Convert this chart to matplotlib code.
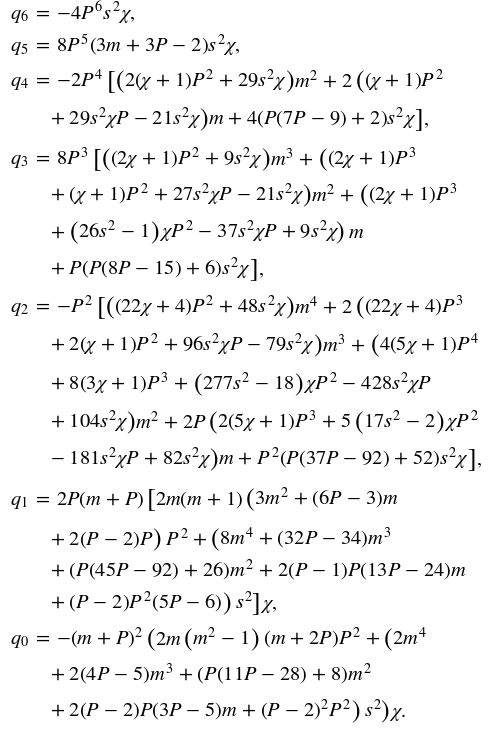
import matplotlib
matplotlib.use("Agg")
import matplotlib.pyplot as plt
from matplotlib.mathtext import MathTextParser
from matplotlib.font_manager import FontProperties

plt.rcParams['mathtext.fontset'] = 'stix'
plt.rcParams['font.family'] = ['STIXGeneral', 'DejaVu Serif']

# Equation lines: (starts a new definition, text). "@(" etc. mark a \big delimiter.
eq_lines = [
    (True,  r"q_6 = -4P^6s^2\chi,"),
    (True,  r"q_5 = 8P^5(3m + 3P - 2)s^2\chi,"),
    (True,  r"q_4 = -2P^4\,@[@(2(\chi + 1)P^2 + 29s^2\chi@)m^2 + 2\,@((\chi + 1)P^2"),
    (False, r"+ 29s^2\chi P - 21s^2\chi@)m + 4(P(7P - 9) + 2)s^2\chi@],"),
    (True,  r"q_3 = 8P^3\,@[@((2\chi + 1)P^2 + 9s^2\chi@)m^3 + @((2\chi + 1)P^3"),
    (False, r"+ (\chi + 1)P^2 + 27s^2\chi P - 21s^2\chi@)m^2 + @((2\chi + 1)P^3"),
    (False, r"+ @(26s^2 - 1@)\chi P^2 - 37s^2\chi P + 9s^2\chi@)\,m"),
    (False, r"+ P(P(8P - 15) + 6)s^2\chi@],"),
    (True,  r"q_2 = -P^2\,@[@((22\chi + 4)P^2 + 48s^2\chi@)m^4 + 2\,@((22\chi + 4)P^3"),
    (False, r"+ 2(\chi + 1)P^2 + 96s^2\chi P - 79s^2\chi@)m^3 + @(4(5\chi + 1)P^4"),
    (False, r"+ 8(3\chi + 1)P^3 + @(277s^2 - 18@)\chi P^2 - 428s^2\chi P"),
    (False, r"+ 104s^2\chi@)m^2 + 2P\,@(2(5\chi + 1)P^3 + 5\,@(17s^2 - 2@)\chi P^2"),
    (False, r"- 181s^2\chi P + 82s^2\chi@)m + P^2(P(37P - 92) + 52)s^2\chi@],"),
    (True,  r"q_1 = 2P(m + P)\,@[2m(m + 1)\,@(3m^2 + (6P - 3)m"),
    (False, r"+ 2(P - 2)P@)\,P^2 + @(8m^4 + (32P - 34)m^3"),
    (False, r"+ (P(45P - 92) + 26)m^2 + 2(P - 1)P(13P - 24)m"),
    (False, r"+ (P - 2)P^2(5P - 6)@)\,s^2@]\chi,"),
    (True,  r"q_0 = -(m + P)^2\,@(2m\,@(m^2 - 1@)\,(m + 2P)P^2 + @(2m^4"),
    (False, r"+ 2(4P - 5)m^3 + (P(11P - 28) + 8)m^2"),
    (False, r"+ 2(P - 2)P(3P - 5)m + (P - 2)^2P^2@)\,s^2@)\chi."),
]

# vertical centres of the lines (pixels from the top)
line_y = [15, 47, 82, 120, 160, 196, 233, 270, 308, 346,
          385, 423, 460, 500, 540, 572, 604, 640, 676, 712]

W, H = 488, 733
X_LABEL, X_CONT = 10, 50
BIG = 1.27          # \big delimiter scale
TARGET = 430.0      # width of the widest continuation line (line 10) in px

BIN = r"\ "         # space around binary operators
REL = r"\;"         # space around relations

mparser = MathTextParser("path")


def measure(s, size):
    vp = mparser.parse(s, dpi=100, prop=FontProperties(size=size))
    xs = [g[3] for g in vp.glyphs] + [rc[0] for rc in vp.rects]
    return vp.width, (min(xs) if xs else 0.0)


def convert(seg, at_start):
    s = seg
    s = s.replace(" + ", "\x01").replace(" - ", "\x02").replace(" = ", "\x03")
    if at_start and s.startswith("+ "):
        s = "\x04" + s[2:]
    if at_start and s.startswith("- "):
        s = "\x05" + s[2:]
    if s.endswith(" +"):
        s = s[:-2] + "\x06"
    s = s.replace("-", "{-}").replace("+", "{+}")
    s = (s.replace("\x01", BIN + "{+}" + BIN).replace("\x02", BIN + "{-}" + BIN)
          .replace("\x03", REL + "{=}" + REL).replace("\x04", "{+}" + BIN)
          .replace("\x05", "{-}" + BIN).replace("\x06", BIN + "{+}" + BIN))
    return s


def tokenize(line):
    toks, buf, i = [], "", 0
    while i < len(line):
        if line[i] == "@":
            if buf:
                toks.append(("m", buf))
                buf = ""
            toks.append(("d", line[i + 1]))
            i += 2
        else:
            buf += line[i]
            i += 1
    if buf:
        toks.append(("m", buf))
    return toks


fig = plt.figure(figsize=(W / 100, H / 100), dpi=100)
fig.patch.set_facecolor('white')


def layout(fs):
    for t in list(fig.texts):
        t.remove()
    em = fs * 100 / 72.0
    widths = []
    for (first, line), yc in zip(eq_lines, line_y):
        x = X_LABEL if first else X_CONT
        x0 = x
        yb = yc + 5
        for k, (kind, s) in enumerate(tokenize(line)):
            if kind == "m":
                txt = "$" + convert(s, k == 0) + "$"
                adv, ox = measure(txt, fs)
                fig.text((x + ox) / W, 1 - yb / H, txt, fontsize=fs,
                         ha='left', va='baseline', color='black')
            else:
                size = fs * BIG
                txt = "$" + s + "$"
                adv, ox = measure(txt, size)
                shift = 0.27 * (BIG - 1) * em
                fig.text((x + ox) / W, 1 - (yb + shift) / H, txt,
                         fontsize=size, ha='left', va='baseline',
                         color='black')
            x += adv
        widths.append(x - x0)
    return widths


fs = 13.0
w = layout(fs)
fs = fs * TARGET / w[9]
layout(fs)

fig.savefig("out.png", dpi=100, facecolor='white')
